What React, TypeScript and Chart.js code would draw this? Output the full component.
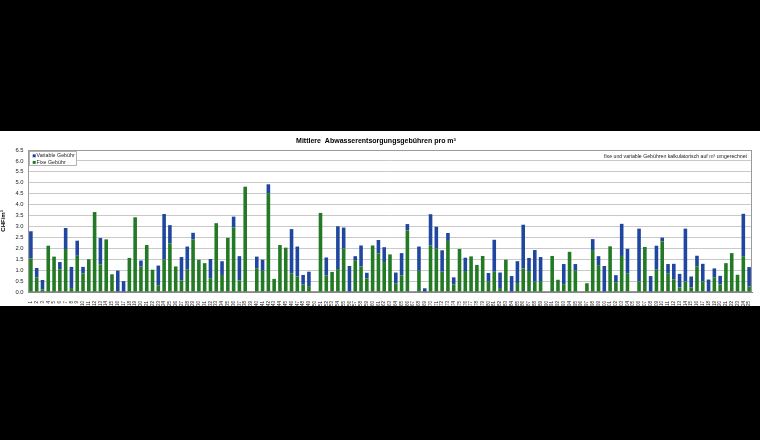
import React, { useEffect, useRef } from 'react';
import { Chart, registerables } from 'chart.js';

Chart.register(...registerables);

// Gemeinden 1..125 (leere Plätze = keine Angabe)
const categories: string[] = Array.from({ length: 125 }, (_, i) => String(i + 1));

const fixeGebuehr: (number | null)[] = [
    1.54, 0.67, 0.12, 2.12, 1.62, 1.04, 1.97, 0.18, 1.66, 0.85,
    1.50, 3.66, 1.27, 2.41, 0.81, 0, 0, 1.56, 3.42, 1.16,
    2.15, 1.02, 0.31, 1.49, 2.23, 1.17, 0.53, 1.02, 2.40, 1.48,
    1.32, 0.63, 3.15, 0.78, 2.48, 2.96, 0.53, 4.82, null, 1.09,
    0.97, 4.52, 0.60, 2.15, 2.03, 0.84, 0.71, 0.34, 0.27, null,
    3.62, 0.76, 0.92, 1.05, 2.00, 0, 1.46, 1.17, 0.63, 2.13,
    1.77, 1.37, 1.72, 0.40, 0.76, 2.82, null, 0.97, 0, 2.12,
    1.98, 0.93, 2.34, 0.35, 1.97, 0.96, 1.63, 1.24, 1.65, 0.47,
    0.93, 0.18, 1.48, 0, 0.41, 1.08, 0.96, 0.47, 0.50, null,
    1.65, 0.56, 0.36, 1.84, 0.98, null, 0.40, 1.92, 1.23, 0,
    2.09, 0.45, 1.65, 0.86, null, 0.48, 2.06, 0, 1.02, 2.32,
    0.84, 0.58, 0.21, 0.48, 0.21, 1.18, 0.48, 0, 0.66, 0.35,
    1.32, 1.78, 0.79, 1.64, 0.25,
];

const variableGebuehr: (number | null)[] = [
    1.24, 0.43, 0.43, 0, 0, 0.33, 0.96, 0.97, 0.69, 0.30,
    0, 0, 1.20, 0, 0, 0.98, 0.50, 0, 0, 0.28,
    0, 0, 0.90, 2.08, 0.83, 0, 1.07, 1.06, 0.31, 0,
    0, 0.88, 0, 0.63, 0, 0.49, 1.11, 0, null, 0.53,
    0.51, 0.41, 0, 0, 0, 2.04, 1.37, 0.44, 0.66, null,
    0, 0.82, 0, 1.96, 0.95, 1.19, 0.18, 0.96, 0.25, 0,
    0.61, 0.68, 0, 0.49, 1.02, 0.29, null, 1.11, 0.17, 1.44,
    1.01, 0.98, 0.36, 0.32, 0, 0.61, 0, 0, 0, 0.40,
    1.46, 0.71, 0, 0.73, 1.00, 2.00, 0.60, 1.45, 1.10, null,
    0, 0, 0.92, 0, 0.30, null, 0, 0.50, 0.41, 1.19,
    0, 0.32, 1.47, 1.12, null, 2.42, 0, 0.73, 1.10, 0.17,
    0.44, 0.71, 0.62, 2.42, 0.50, 0.48, 0.81, 0.57, 0.42, 0.39,
    0, 0, 0, 1.94, 0.89,
];

const TITLE = 'Mittlere  Abwasserentsorgungsgebühren pro m³';
const NOTE = 'fixe und variable Gebühren kalkulatorisch auf m³ umgerechnet';
const FONT = '"Liberation Sans", Arial, sans-serif';

// Legend box inside the plot + note at top right, like the Excel original
const extrasPlugin = {
    id: 'excelExtras',
    beforeDatasetsDraw(chart: any) {
        const { ctx, chartArea } = chart;
        ctx.save();
        ctx.strokeStyle = '#9a9a9a';
        ctx.lineWidth = 1;
        ctx.strokeRect(chartArea.left + 0.5, chartArea.top + 0.5, chartArea.right - chartArea.left - 1, chartArea.bottom - chartArea.top - 1);
        ctx.restore();
    },
    afterDraw(chart: any) {
        const { ctx, chartArea } = chart;
        const { left, top, right } = chartArea;
        ctx.save();
        // legend
        const bx = left + 1.5;
        const by = top + 1.5;
        ctx.fillStyle = '#ffffff';
        ctx.fillRect(bx, by, 47, 14);
        ctx.strokeStyle = '#a0a0a0';
        ctx.lineWidth = 0.8;
        ctx.strokeRect(bx, by, 47, 14);
        const items = [...chart.data.datasets].reverse();
        ctx.font = `5.3px ${FONT}`;
        ctx.textBaseline = 'middle';
        items.forEach((ds: any, i: number) => {
            const cy = by + 4.3 + i * 6.6;
            ctx.fillStyle = ds.backgroundColor;
            ctx.fillRect(bx + 3.2, cy - 1.5, 3, 3);
            ctx.fillStyle = '#222';
            ctx.fillText(ds.label, bx + 7, cy);
        });
        // note
        ctx.font = `5.2px ${FONT}`;
        ctx.textAlign = 'right';
        ctx.fillStyle = '#222';
        ctx.fillText(NOTE, right - 5, top + 6.8);
        ctx.restore();
    },
};

const App: React.FC = () => {
    const chartRef = useRef<HTMLCanvasElement>(null);
    const chartInstance = useRef<Chart | null>(null);

    useEffect(() => {
        if (chartRef.current) {
            if (chartInstance.current) {
                chartInstance.current.destroy();
            }
            const ctx = chartRef.current.getContext('2d');
            if (ctx) {
                chartInstance.current = new Chart(ctx, {
                    type: 'bar',
                    data: {
                        labels: categories,
                        datasets: [
                            {
                                label: 'Fixe Gebühr',
                                data: fixeGebuehr,
                                backgroundColor: '#237a24',
                                borderWidth: 0,
                            },
                            {
                                label: 'Variable Gebühr',
                                data: variableGebuehr,
                                backgroundColor: '#20479f',
                                borderWidth: 0,
                            },
                        ],
                    },
                    options: {
                        responsive: false,
                        animation: false,
                        layout: { padding: { left: 0, right: 8, top: 0, bottom: 0 } },
                        datasets: {
                            bar: { barPercentage: 0.62, categoryPercentage: 1 },
                        },
                        plugins: {
                            legend: { display: false },
                            tooltip: { enabled: false },
                            title: {
                                display: true,
                                text: TITLE,
                                color: '#000',
                                font: { family: FONT, size: 7, weight: 'bold' },
                                padding: { top: 6, bottom: 4.6 },
                            },
                        },
                        scales: {
                            x: {
                                stacked: true,
                                grid: { display: false },
                                border: { display: true, color: '#888' },
                                ticks: {
                                    autoSkip: false,
                                    minRotation: 90,
                                    maxRotation: 90,
                                    padding: 1,
                                    color: '#222',
                                    font: { family: FONT, size: 4.5 },
                                },
                                afterFit: (scale: any) => {
                                    scale.height = 14;
                                },
                            },
                            y: {
                                stacked: true,
                                min: 0,
                                max: 6.5,
                                grid: { color: '#c9c9c9', lineWidth: 1, drawTicks: false },
                                border: { display: true, color: '#888' },
                                ticks: {
                                    stepSize: 0.5,
                                    padding: 4.5,
                                    color: '#222',
                                    font: { family: FONT, size: 5.8 },
                                    callback: (v: any) => Number(v).toFixed(1),
                                },
                                title: {
                                    display: true,
                                    text: 'CHF/m³',
                                    color: '#000',
                                    padding: 0,
                                    font: { family: FONT, size: 6, weight: 'bold' },
                                },
                                afterFit: (scale: any) => {
                                    scale.width = 28;
                                },
                            },
                        },
                    },
                    plugins: [extrasPlugin],
                });
            }
        }
        return () => {
            if (chartInstance.current) {
                chartInstance.current.destroy();
                chartInstance.current = null;
            }
        };
    }, []);

    return (
        <div style={{ position: 'fixed', left: 0, top: 0, width: 760, height: 440, background: '#000' }}>
            <div style={{ position: 'absolute', left: 0, top: 131, width: 760, height: 175, background: '#fff' }}>
                <canvas ref={chartRef} width={760} height={175} style={{ display: 'block' }}></canvas>
            </div>
        </div>
    );
};

export default App;
